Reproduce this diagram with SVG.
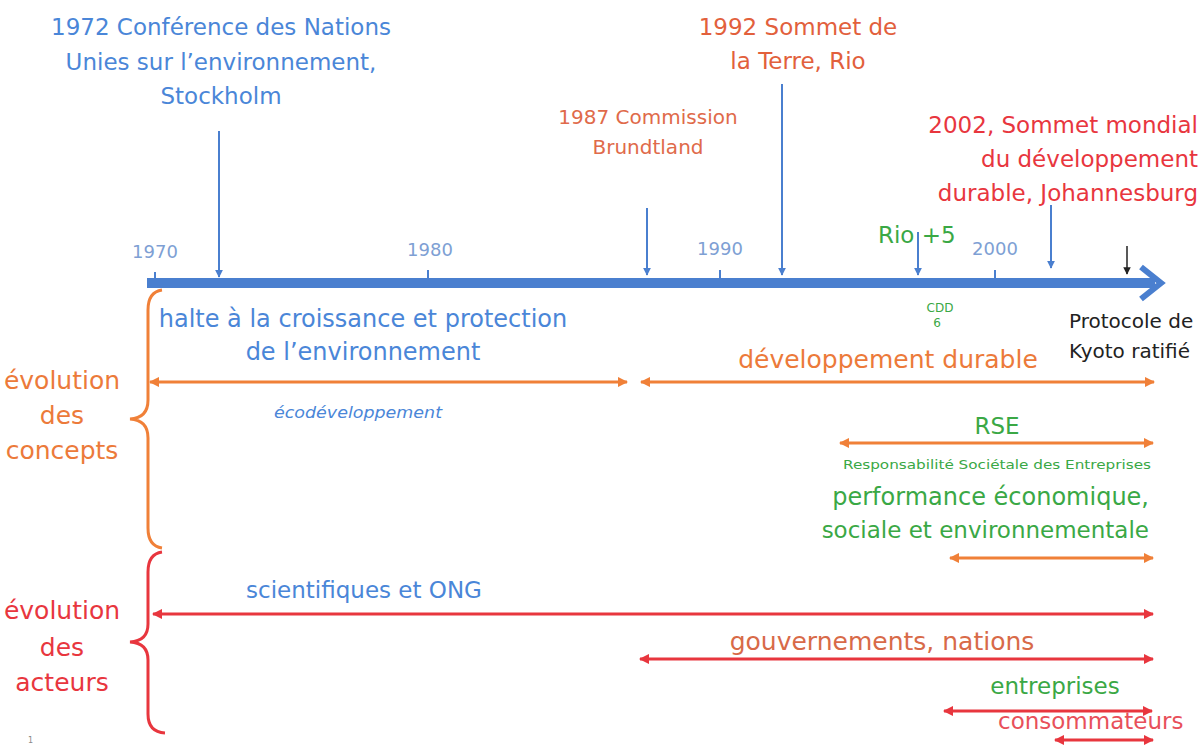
<svg xmlns="http://www.w3.org/2000/svg" width="1204" height="751" viewBox="0 0 1204 751">
<style>
text{font-family:"DejaVu Sans",Verdana,sans-serif;}
.blue{fill:#4a86d8;}
.orange{fill:#ec7a3a;}
.red{fill:#e8363e;}
.green{fill:#3aa845;}
.year{fill:#7e9fd4;font-size:18px;}
.big{font-size:23px;}
.c{text-anchor:middle;}
.e{text-anchor:end;}
.ax{stroke:#4a7fcf;stroke-width:2;fill:none;}
.olin{stroke:#f08038;stroke-width:3;fill:none;}
.rlin{stroke:#e8363e;stroke-width:3;fill:none;}
</style>
<defs>
<marker id="ab" viewBox="0 0 10 10" refX="9" refY="5" markerWidth="4" markerHeight="4" orient="auto"><path d="M0,0 L10,5 L0,10 z" fill="#4a7fcf"/></marker>
<marker id="ak" viewBox="0 0 10 10" refX="9" refY="5" markerWidth="5" markerHeight="5" orient="auto"><path d="M0,0 L10,5 L0,10 z" fill="#222"/></marker>
<marker id="ao" viewBox="0 0 10 10" refX="9" refY="5" markerWidth="3.5" markerHeight="3.5" orient="auto-start-reverse"><path d="M0,0 L10,5 L0,10 z" fill="#f08038"/></marker>
<marker id="ar" viewBox="0 0 10 10" refX="9" refY="5" markerWidth="3.5" markerHeight="3.5" orient="auto-start-reverse"><path d="M0,0 L10,5 L0,10 z" fill="#e8363e"/></marker>
</defs>

<g id="axis">
<line x1="147" y1="283" x2="1155" y2="283" stroke="#4a7fcf" stroke-width="10"/>
<path d="M1141,267 L1161,283 L1141,299" stroke="#4a7fcf" stroke-width="6" fill="none"/>
<line class="ax" x1="155" y1="272" x2="155" y2="280"/>
<line class="ax" x1="428" y1="270" x2="428" y2="280"/>
<line class="ax" x1="720" y1="270" x2="720" y2="280"/>
<line class="ax" x1="995" y1="270" x2="995" y2="280"/>
<text class="year c" x="155" y="258">1970</text>
<text class="year c" x="430" y="256">1980</text>
<text class="year c" x="720" y="255">1990</text>
<text class="year c" x="995" y="255">2000</text>
</g>

<g id="connectors">
<line class="ax" x1="219" y1="131" x2="219" y2="277" marker-end="url(#ab)"/>
<line class="ax" x1="647" y1="208" x2="647" y2="275" marker-end="url(#ab)"/>
<line class="ax" x1="782" y1="84" x2="782" y2="275" marker-end="url(#ab)"/>
<line class="ax" x1="918" y1="232" x2="918" y2="275" marker-end="url(#ab)"/>
<line class="ax" x1="1051" y1="205" x2="1051" y2="268" marker-end="url(#ab)"/>
<line x1="1127" y1="246" x2="1127" y2="274" stroke="#222" stroke-width="1.5" marker-end="url(#ak)"/>
<line class="olin" x1="150" y1="382" x2="627" y2="382" marker-start="url(#ao)" marker-end="url(#ao)"/>
<line class="olin" x1="641" y1="382" x2="1154" y2="382" marker-start="url(#ao)" marker-end="url(#ao)"/>
<line class="olin" x1="840" y1="443" x2="1153" y2="443" marker-start="url(#ao)" marker-end="url(#ao)"/>
<line class="olin" x1="950" y1="558" x2="1153" y2="558" marker-start="url(#ao)" marker-end="url(#ao)"/>
<line class="rlin" x1="153" y1="614" x2="1153" y2="614" marker-start="url(#ar)" marker-end="url(#ar)"/>
<line class="rlin" x1="640" y1="659" x2="1153" y2="659" marker-start="url(#ar)" marker-end="url(#ar)"/>
<line class="rlin" x1="944" y1="711" x2="1152" y2="711" marker-start="url(#ar)" marker-end="url(#ar)"/>
<line class="rlin" x1="1055" y1="740" x2="1153" y2="740" marker-start="url(#ar)" marker-end="url(#ar)"/>
</g>

<g id="stockholm">
<text class="blue big c" x="221" y="35">1972 Conférence des Nations</text>
<text class="blue big c" x="221" y="70">Unies sur l’environnement,</text>
<text class="blue big c" x="221" y="104">Stockholm</text>
</g>
<g id="brundtland">
<text class="c" font-size="20" fill="#e06a4a" x="648" y="124">1987 Commission</text>
<text class="c" font-size="20" fill="#e06a4a" x="648" y="154">Brundtland</text>
</g>
<g id="rio">
<text class="big c" fill="#e2603c" x="798" y="35">1992 Sommet de</text>
<text class="big c" fill="#e2603c" x="798" y="69">la Terre, Rio</text>
</g>
<g id="johannesburg">
<text class="red big e" x="1198" y="133">2002, Sommet mondial</text>
<text class="red big e" x="1198" y="167">du développement</text>
<text class="red big e" x="1198" y="201">durable, Johannesburg</text>
</g>
<g id="rio5">
<text class="green big" x="878" y="243">Rio +5</text>
</g>
<g id="cdd">
<text class="green c" font-size="12" x="940" y="312">CDD</text>
<text class="green c" font-size="12" x="937" y="327">6</text>
</g>
<g id="kyoto">
<text fill="#222" font-size="20" x="1069" y="328">Protocole de</text>
<text fill="#222" font-size="20" x="1069" y="358">Kyoto ratifié</text>
</g>

<g id="halte">
<text class="blue c" font-size="24" x="363" y="327">halte à la croissance et protection</text>
<text class="blue c" font-size="24" x="363" y="360">de l’environnement</text>
</g>
<g id="eco">
<text class="blue c" font-size="16" font-style="italic" x="358" y="418" textLength="168" lengthAdjust="spacingAndGlyphs">écodéveloppement</text>
</g>
<g id="dd">
<text class="orange c" font-size="25" x="888" y="368">développement durable</text>
</g>
<g id="rse">
<text class="green big c" x="997" y="434">RSE</text>
<text class="green c" font-size="13" x="997" y="469" textLength="308" lengthAdjust="spacingAndGlyphs">Responsabilité Sociétale des Entreprises</text>
</g>
<g id="perf">
<text class="green e" font-size="24" x="1149" y="505">performance économique,</text>
<text class="green e" font-size="23" x="1149" y="538">sociale et environnementale</text>
</g>

<g id="concepts">
<path d="M162,290 Q148,292 148,310 L148,400 Q148,418 130,419 Q148,420 148,438 L148,528 Q148,546 162,548" stroke="#f08038" stroke-width="3" fill="none"/>
<text class="orange c" font-size="25" x="62" y="389">évolution</text>
<text class="orange c" font-size="25" x="62" y="424">des</text>
<text class="orange c" font-size="25" x="62" y="459">concepts</text>
</g>
<g id="acteurs">
<path d="M162,552 Q148,554 148,572 L148,624 Q148,641 130,642 Q148,643 148,660 L148,714 Q148,732 165,733" stroke="#e8363e" stroke-width="3" fill="none"/>
<text class="red c" font-size="25" x="62" y="619">évolution</text>
<text class="red c" font-size="25" x="62" y="656">des</text>
<text class="red c" font-size="25" x="62" y="691">acteurs</text>
</g>

<g id="sci">
<text class="blue big c" x="364" y="598">scientifiques et ONG</text>
</g>
<g id="gouv">
<text fill="#d86a48" font-size="25" text-anchor="middle" x="882" y="650">gouvernements, nations</text>
</g>
<g id="entreprises">
<text class="green big c" x="1055" y="694">entreprises</text>
</g>
<g id="conso">
<text class="big" fill="#e8505a" x="998" y="729">consommateurs</text>
</g>
<text x="28" y="743" font-size="8" fill="#888">1</text>
</svg>
